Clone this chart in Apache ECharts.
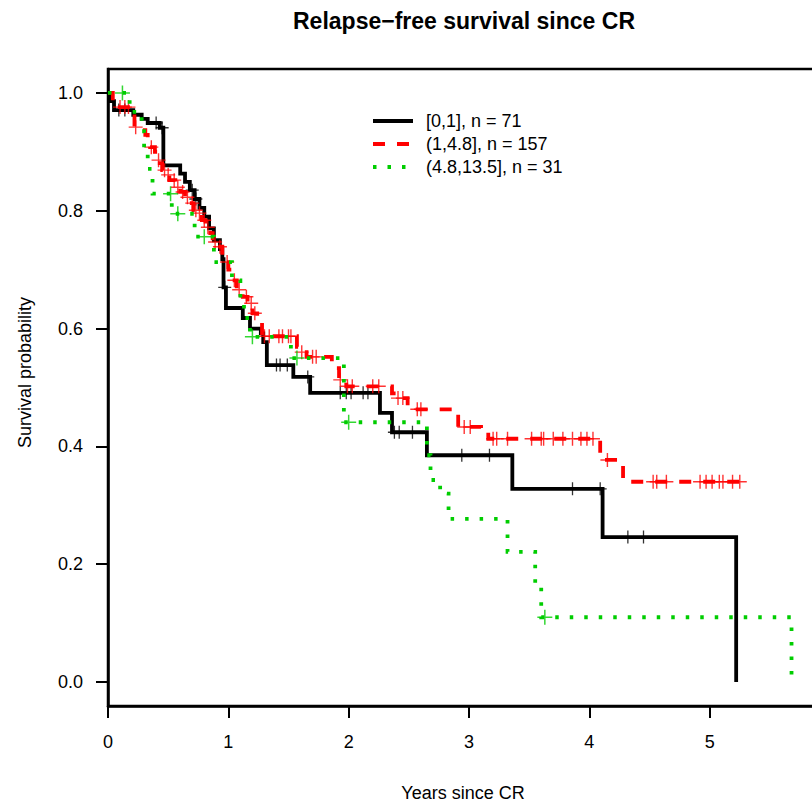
<!DOCTYPE html>
<html><head><meta charset="utf-8">
<script src="https://cdn.jsdelivr.net/npm/echarts@6/dist/echarts.min.js"></script>
<style>html,body{margin:0;padding:0;background:#fff}#c{width:812px;height:808px}</style>
</head><body><div id="c"></div>
<script>
// ---- text ----
const titleText = 'Relapse\u2212free survival since CR';
const xAxisTitle = 'Years since CR';
const yAxisTitle = 'Survival probability';
const xTicks = [0, 1, 2, 3, 4, 5];
const yTicks = [0, 0.2, 0.4, 0.6, 0.8, 1.0];
const groupNames = ['[0,1], n = 71', '(1,4.8], n = 157', '(4.8,13.5], n = 31'];

// ---- group [0,1] (black) ----
const blackTimes = [0, 0.02, 0.05, 0.21, 0.28, 0.33, 0.43, 0.46, 0.6, 0.64, 0.68, 0.72, 0.76, 0.8, 0.84, 0.88, 0.93, 0.95, 0.96, 0.98, 1.12, 1.18, 1.27, 1.29, 1.32, 1.54, 1.68, 2.26, 2.36, 2.65, 3.36, 4.11, 5.22];
const blackSurv  = [1, 0.986, 0.971, 0.963, 0.956, 0.949, 0.941, 0.877, 0.863, 0.849, 0.835, 0.82, 0.805, 0.79, 0.77, 0.75, 0.735, 0.718, 0.67, 0.635, 0.618, 0.6, 0.592, 0.577, 0.538, 0.518, 0.491, 0.457, 0.424, 0.385, 0.328, 0.246, 0];
const blackCensor = [0.09, 0.14, 0.4, 0.45, 0.7, 0.73, 0.97, 1.4, 1.43, 1.49, 1.66, 1.93, 1.98, 2.02, 2.12, 2.16, 2.38, 2.42, 2.53, 2.94, 3.17, 3.86, 4.09, 4.32, 4.45];

// ---- group (1,4.8] (red) ----
const redTimes = [0, 0.04, 0.075, 0.21, 0.22, 0.27, 0.31, 0.33, 0.35, 0.39, 0.41, 0.43, 0.45, 0.49, 0.51, 0.56, 0.6, 0.64, 0.68, 0.71, 0.74, 0.78, 0.81, 0.85, 0.87, 0.91, 0.95, 0.97, 1.0, 1.03, 1.07, 1.12, 1.16, 1.2, 1.24, 1.28, 1.57, 1.59, 1.65, 1.86, 1.92, 1.98, 2.36, 2.4, 2.49, 2.91, 3.1, 3.16, 4.09, 4.28, 5.25];
const redSurv  = [1, 0.985, 0.976, 0.966, 0.942, 0.937, 0.929, 0.92, 0.908, 0.9, 0.886, 0.881, 0.869, 0.861, 0.852, 0.84, 0.832, 0.823, 0.813, 0.801, 0.796, 0.784, 0.772, 0.762, 0.747, 0.739, 0.722, 0.713, 0.7, 0.682, 0.666, 0.654, 0.643, 0.626, 0.61, 0.587, 0.569, 0.56, 0.552, 0.533, 0.513, 0.502, 0.49, 0.482, 0.463, 0.433, 0.428, 0.413, 0.377, 0.34, 0.34];
const redCensor = [0.1, 0.14, 0.17, 0.23, 0.36, 0.42, 0.47, 0.5, 0.55, 0.58, 0.62, 0.66, 0.7, 0.73, 0.76, 0.8, 0.83, 0.89, 0.93, 0.99, 1.05, 1.09, 1.15, 1.19, 1.22, 1.3, 1.34, 1.42, 1.45, 1.5, 1.52, 1.61, 1.7, 1.73, 1.93, 1.99, 2.03, 2.2, 2.25, 2.41, 2.45, 2.57, 2.6, 2.96, 3.01, 3.2, 3.23, 3.32, 3.52, 3.6, 3.62, 3.7, 3.78, 3.86, 3.93, 3.98, 4.03, 4.15, 4.53, 4.56, 4.64, 4.92, 4.97, 5.02, 5.08, 5.11, 5.19, 5.25];

// ---- group (4.8,13.5] (green) ----
const greenTimes = [0, 0.18, 0.28, 0.3, 0.33, 0.37, 0.53, 0.72, 0.88, 1.03, 1.1, 1.13, 1.18, 1.52, 1.96, 2.65, 2.68, 2.76, 2.83, 3.32, 3.55, 3.6, 5.68];
const greenSurv  = [1, 0.968, 0.935, 0.903, 0.871, 0.829, 0.795, 0.756, 0.713, 0.682, 0.65, 0.618, 0.586, 0.55, 0.441, 0.385, 0.343, 0.32, 0.277, 0.221, 0.166, 0.11, 0];
const greenCensor = [0.12, 0.52, 0.58, 0.8, 1.2, 1.57, 2.0, 3.63];

// ---- helpers ----
const FONT = "'Liberation Sans', Arial, Helvetica, sans-serif";
const CROSS = 'path://M-1,-10L1,-10L1,-1L10,-1L10,1L1,1L1,10L-1,10L-1,1L-10,1L-10,-1L-1,-1Z';
function stepData(times, surv) { return times.map((t, i) => [t, surv[i]]); }
function survAt(times, surv, t) {
  let v = surv[0];
  for (let i = 0; i < times.length; i++) { if (times[i] <= t) v = surv[i]; }
  return v;
}
function censorData(times, surv, cens) { return cens.map(t => [t, survAt(times, surv, t)]); }

const groups = [
  { name: groupNames[0], times: blackTimes, surv: blackSurv, cens: blackCensor, color: '#000000', type: 'solid', size: 13 },
  { name: groupNames[1], times: redTimes, surv: redSurv, cens: redCensor, color: '#FF0000', type: [12, 12], size: 14 },
  { name: groupNames[2], times: greenTimes, surv: greenSurv, cens: greenCensor, color: '#00CD00', type: [3.5, 11], size: 15 }
];

const series = [];
groups.forEach((g, gi) => {
  series.push({
    name: g.name, type: 'line', step: 'end', symbol: 'none', showSymbol: false,
    data: stepData(g.times, g.surv), z: 2 + gi * 2, silent: true,
    lineStyle: { color: g.color, width: 3.8, type: g.type, cap: 'butt', join: 'miter' },
    itemStyle: { color: g.color }
  });
  series.push({
    name: g.name + ' censored', type: 'scatter', symbol: CROSS, symbolSize: g.size,
    data: censorData(g.times, g.surv, g.cens), z: 3 + gi * 2, silent: true,
    itemStyle: { color: g.color }
  });
});

const chart = echarts.init(document.getElementById('c'), null, { renderer: 'svg', width: 812, height: 808 });
chart.setOption({
  animation: false,
  backgroundColor: '#ffffff',
  textStyle: { fontFamily: FONT },
  grid: { left: 108, top: 69, width: 710, height: 637, show: true, borderColor: '#000', borderWidth: 2.5, containLabel: false, outerBoundsMode: 'none' },
  xAxis: {
    type: 'value', min: 0, max: 5.9,
    axisLine: { show: true, onZero: false, lineStyle: { color: '#000', width: 2.5 } },
    axisTick: { show: true, inside: false, length: 12, customValues: xTicks, lineStyle: { color: '#000', width: 2 } },
    axisLabel: { customValues: xTicks, margin: 27, fontSize: 18, color: '#000', fontFamily: FONT, formatter: v => String(v) },
    splitLine: { show: false },
    name: xAxisTitle, nameLocation: 'middle', nameGap: 78,
    nameTextStyle: { fontSize: 18, color: '#000', fontFamily: FONT }
  },
  yAxis: {
    type: 'value', min: -0.0407, max: 1.0407,
    axisLine: { show: true, onZero: false, lineStyle: { color: '#000', width: 2.5 } },
    axisTick: { show: true, inside: false, length: 12, customValues: yTicks, lineStyle: { color: '#000', width: 2 } },
    axisLabel: { customValues: yTicks, margin: 25, fontSize: 18, color: '#000', fontFamily: FONT, formatter: v => v.toFixed(1) },
    splitLine: { show: false },
    name: yAxisTitle, nameLocation: 'middle', nameGap: 74, nameRotate: 90,
    nameTextStyle: { fontSize: 18, color: '#000', fontFamily: FONT, padding: [0, 0, 0, 30] }
  },
  legend: {
    left: 366, top: 107, orient: 'vertical', itemWidth: 40, itemHeight: 20, itemGap: 5,
    data: groupNames, selectedMode: false,
    itemStyle: { opacity: 0 },
    lineStyle: { width: 4 },
    textStyle: { fontSize: 18, color: '#000', fontFamily: FONT, padding: [0, 0, 0, 8] }
  },
  graphic: [{
    type: 'text', x: 464, y: 21, silent: true,
    style: { text: titleText, fontSize: 23, fontWeight: 'bold', fontFamily: FONT, fill: '#000', align: 'center', verticalAlign: 'middle' }
  }],
  series: series
});
</script>
</body></html>
